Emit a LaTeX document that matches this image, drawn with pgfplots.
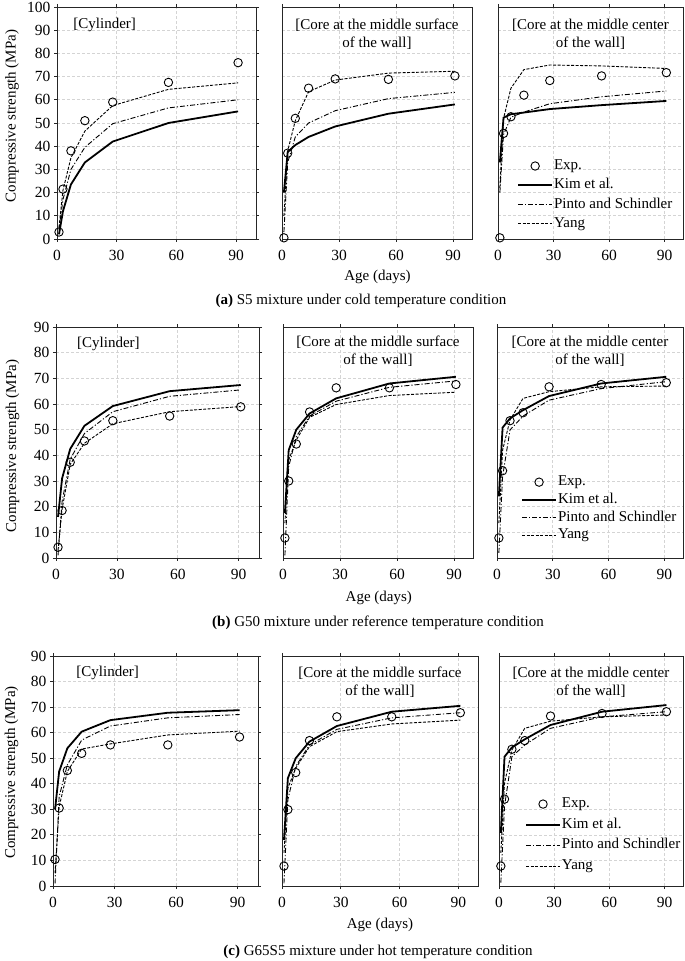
\documentclass[border=0pt]{standalone}
\usepackage{pgfplots}
\pgfplotsset{compat=1.18}
\usepackage{fontspec}
\setmainfont{Liberation Serif}
\newcommand\bfont{\fontsize{15}{18}\selectfont}
\newcommand\tfont{\fontsize{15.5}{18}\selectfont}
\pgfplotsset{
  panel/.style={scale only axis, anchor=south west, xmin=0, xmax=100, xtick={0,30,60,90},
    grid=major, grid style={dash pattern=on 3pt off 2pt, black!17, line width=0.7pt},
    axis line style={line width=0.9pt, black!85}, tick align=outside, major tick length=3pt,
    tick style={line width=0.8pt, black!85}, ticklabel style={font=\tfont},
    xticklabel style={yshift=-5pt},
    /pgf/number format/assume math mode=true, clip mode=individual},
  kim/.style={black, line width=1.8pt},
  pinto/.style={black, line width=0.9pt, dash pattern=on 5pt off 2pt on 1.2pt off 2pt},
  yang/.style={black, line width=0.9pt, dash pattern=on 3pt off 1.5pt},
  expm/.style={only marks, mark=o, mark size=4.2pt, mark options={black, line width=0.9pt}},
  noy/.style={yticklabels={}, y tick style={draw=none}},
  leg/.style={legend image code/.code={\draw[mark repeat=2,mark phase=2,##1] plot coordinates {(0pt,0pt) (17pt,0pt) (34pt,0pt)};},
    legend cell align=left,
    legend style={draw=none, fill=none, inner sep=0pt, font=\bfont, anchor=north west,
      nodes={inner sep=1pt, text height=11pt, text depth=4pt}}},
  row1/.style={ymin=0, ymax=100, ytick={0,10,...,100}, height=232pt},
  row2/.style={ymin=0, ymax=90, ytick={0,10,...,90}, height=231pt},
  row3/.style={ymin=0, ymax=90, ytick={0,10,...,90}, height=230pt},
}
\begin{document}
\begin{tikzpicture}
\useasboundingbox (0,0) rectangle (685pt,961pt);
% ===== Row 1 =====
\begin{axis}[panel, row1, at={(57pt,722pt)}, width=199pt]
\addplot[kim] coordinates {(1,2) (3,12) (7,23.5) (14,33) (28,42) (56,50) (91,55)};
\addplot[pinto] coordinates {(1,4) (3,17) (7,30) (14,39.5) (28,49.7) (56,56.5) (91,60)};
\addplot[yang] coordinates {(1,5) (3,21) (7,35) (14,46.5) (28,57.5) (56,64.5) (91,67.3)};
\addplot[expm] coordinates {(1,3) (3,21.5) (7,38) (14,51) (28,59) (56,67.5) (91,76)};
\node[font=\bfont, anchor=west] at (rel axis cs:0.065,0.922) {[Cylinder]};
\end{axis}
\begin{axis}[panel, row1, noy, at={(282pt,722pt)}, width=190pt]
\addplot[kim] coordinates {(1,20) (3,37.5) (7,40.5) (14,44) (28,48.5) (56,54) (91,58)};
\addplot[pinto] coordinates {(1,3) (3,33) (7,44) (14,50) (28,55.3) (56,60.5) (91,63.2)};
\addplot[yang] coordinates {(1,10) (3,38) (7,51) (14,63.5) (28,68.5) (56,71.5) (91,72.3)};
\addplot[expm] coordinates {(1,0.5) (3,37) (7,52) (14,65) (28,69) (56,68.8) (91,70.3)};
\node[font=\bfont, align=center] at (rel axis cs:0.5,0.884) {[Core at the middle surface\\of the wall]};
\end{axis}
\begin{axis}[panel, row1, noy, leg, at={(498pt,722pt)}, width=185pt,
  legend style={at={(0.103,0.352)}, /tikz/row sep=2.3pt}]
\addplot[expm] coordinates {(1,0.5) (3,45.5) (7,52.7) (14,62) (28,68.3) (56,70.3) (91,71.7)};
\addlegendentry{Exp.}
\addplot[kim] coordinates {(1,33) (3,52.3) (7,53.8) (14,54.5) (28,56) (56,57.7) (91,59.5)};
\addlegendentry{Kim et al.}
\addplot[pinto] coordinates {(1,20) (3,45) (7,52.5) (14,54.7) (28,58.3) (56,61.3) (91,63.8)};
\addlegendentry{Pinto and Schindler}
\addplot[yang] coordinates {(1,22) (3,52) (7,65) (14,73) (28,75) (56,74.6) (91,73.5)};
\addlegendentry{Yang}
\node[font=\bfont, align=center] at (rel axis cs:0.5,0.884) {[Core at the middle center\\of the wall]};
\end{axis}
% ===== Row 2 =====
\begin{axis}[panel, row2, at={(56pt,403pt)}, width=203pt]
\addplot[kim] coordinates {(1,16) (3,31) (7,42.5) (14,51.5) (28,59.2) (56,65) (91,67.4)};
\addplot[pinto] coordinates {(1,1) (3,22) (7,38.5) (14,48.5) (28,57) (56,63) (91,65.5)};
\addplot[yang] coordinates {(1,3) (3,19) (7,36.5) (14,44.7) (28,52.3) (56,57) (91,59)};
\addplot[expm] coordinates {(1,4.2) (3,18.5) (7,37.3) (14,45.6) (28,53.5) (56,55.3) (91,58.9)};
\node[font=\bfont, anchor=west] at (rel axis cs:0.087,0.926) {[Cylinder]};
\end{axis}
\begin{axis}[panel, row2, noy, at={(283pt,403pt)}, width=190pt]
\addplot[kim] coordinates {(1,17.5) (3,42) (7,50) (14,56.3) (28,62.2) (56,68) (91,70.6)};
\addplot[pinto] coordinates {(1,1) (3,35.6) (7,47.3) (14,55.3) (28,61.1) (56,66.5) (91,69)};
\addplot[yang] coordinates {(1,13.6) (3,38.2) (7,46) (14,54.8) (28,59.8) (56,63.3) (91,64.6)};
\addplot[expm] coordinates {(1,7.8) (3,30) (7,44.4) (14,56.9) (28,66.3) (56,66.3) (91,67.6)};
\node[font=\bfont, align=center] at (rel axis cs:0.5,0.896) {[Core at the middle surface\\of the wall]};
\end{axis}
\begin{axis}[panel, row2, noy, leg, at={(497pt,403pt)}, width=186pt,
  legend style={at={(0.129,0.366)}, /tikz/row sep=0.7pt}]
\addplot[expm] coordinates {(1,7.8) (3,34) (7,53.5) (14,56.6) (28,66.7) (56,67.6) (91,68.3)};
\addlegendentry{Exp.}
\addplot[kim] coordinates {(1,24) (3,50.8) (7,54.4) (14,57.6) (28,63.1) (56,68) (91,70.6)};
\addlegendentry{Kim et al.}
\addplot[pinto] coordinates {(1,2) (3,31.7) (7,49.9) (14,55.3) (28,61.5) (56,66) (91,68.7)};
\addlegendentry{Pinto and Schindler}
\addplot[yang] coordinates {(1,13.6) (3,42) (7,53.8) (14,62.2) (28,64.8) (56,66.7) (91,67)};
\addlegendentry{Yang}
\node[font=\bfont, align=center] at (rel axis cs:0.5,0.896) {[Core at the middle center\\of the wall]};
\end{axis}
% ===== Row 3 =====
\begin{axis}[panel, row3, at={(53pt,75pt)}, width=205pt]
\addplot[kim] coordinates {(1,30) (3,44.8) (7,53.9) (14,60.4) (28,64.9) (56,67.8) (91,68.8)};
\addplot[pinto] coordinates {(1,1) (3,35) (7,47.4) (14,57.1) (28,62.6) (56,65.8) (91,67.1)};
\addplot[yang] coordinates {(1,5) (3,31) (7,44.8) (14,53.6) (28,55.6) (56,59.1) (91,60.6)};
\addplot[expm] coordinates {(1,10.4) (3,30.5) (7,45.2) (14,51.9) (28,55.2) (56,55.2) (91,58.3)};
\node[font=\bfont, anchor=west] at (rel axis cs:0.097,0.926) {[Cylinder]};
\end{axis}
\begin{axis}[panel, row3, noy, at={(282pt,75pt)}, width=196pt]
\addplot[kim] coordinates {(1,18) (3,42.2) (7,50) (14,56.5) (28,62.6) (56,68.2) (91,70.5)};
\addplot[pinto] coordinates {(1,1) (3,33.8) (7,46.8) (14,55.2) (28,61.3) (56,65.8) (91,67.8)};
\addplot[yang] coordinates {(1,13) (3,38.3) (7,46.1) (14,54.5) (28,60.4) (56,63.4) (91,64.9)};
\addplot[expm] coordinates {(1,7.8) (3,29.9) (7,44.4) (14,56.9) (28,66.2) (56,66.2) (91,67.8)};
\node[font=\bfont, align=center] at (rel axis cs:0.5,0.887) {[Core at the middle surface\\of the wall]};
\end{axis}
\begin{axis}[panel, row3, noy, leg, at={(499pt,75pt)}, width=184pt,
  legend style={at={(0.141,0.394)}, /tikz/row sep=3.7pt}]
\addplot[expm] coordinates {(1,7.8) (3,34) (7,53.5) (14,56.9) (28,66.5) (56,67.5) (91,68.2)};
\addlegendentry{Exp.}
\addplot[kim] coordinates {(1,20.8) (3,50.6) (7,54.2) (14,57.4) (28,63) (56,68.2) (91,70.8)};
\addlegendentry{Kim et al.}
\addplot[pinto] coordinates {(1,1.3) (3,31.2) (7,50.6) (14,55.2) (28,61.7) (56,66.2) (91,68.2)};
\addlegendentry{Pinto and Schindler}
\addplot[yang] coordinates {(1,13) (3,40.3) (7,53.2) (14,61.7) (28,64.5) (56,66.2) (91,66.9)};
\addlegendentry{Yang}
\node[font=\bfont, align=center] at (rel axis cs:0.5,0.887) {[Core at the middle center\\of the wall]};
\end{axis}
% ===== labels =====
\node[rotate=90, font=\bfont] at (12pt,845pt) {Compressive strength (MPa)};
\node[rotate=90, font=\bfont] at (12.5pt,515pt) {Compressive strength (MPa)};
\node[rotate=90, font=\bfont] at (11.5pt,188.5pt) {Compressive strength (MPa)};
\node[font=\bfont] at (377.5pt,684pt) {Age (days)};
\node[font=\bfont] at (378.8pt,362.7pt) {Age (days)};
\node[font=\bfont] at (380pt,36pt) {Age (days)};
\node[font=\bfont] at (361pt,660pt) {\textbf{(a)} S5 mixture under cold temperature condition};
\node[font=\bfont] at (378pt,337.7pt) {\textbf{(b)} G50 mixture under reference temperature condition};
\node[font=\bfont] at (378pt,9.3pt) {\textbf{(c)} G65S5 mixture under hot temperature condition};
\end{tikzpicture}
\end{document}
